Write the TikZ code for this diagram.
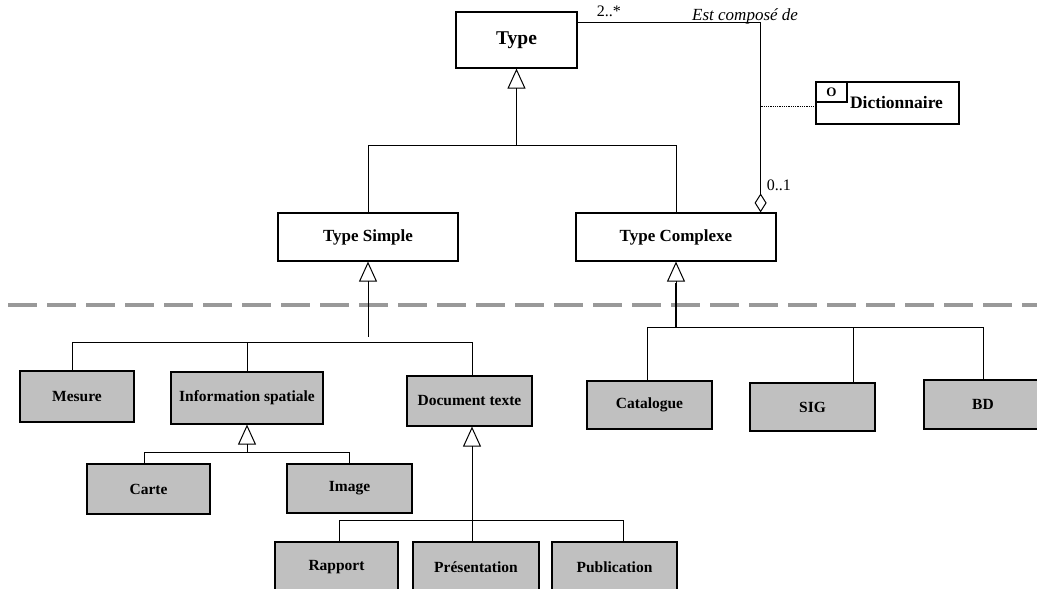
\documentclass[tikz,border=0pt]{standalone}
\usepackage{fontspec}
\setmainfont{Liberation Serif}
\usetikzlibrary{arrows.meta,calc}
\definecolor{boxgray}{RGB}{192,192,192}
\definecolor{dashgray}{RGB}{153,153,153}
\tikzset{
  cls/.style={draw, line width=1.2pt, fill=white, inner sep=0pt,
    font=\fontsize{17}{20}\selectfont\bfseries},
  sub/.style={draw, line width=1.2pt, fill=boxgray, inner sep=0pt,
    font=\fontsize{15.5}{18}\selectfont\bfseries},
  link/.style={line width=1pt},
  gen/.style={line width=1pt, -{Triangle[open,length=20pt,width=18pt,line width=1pt]}},
  agg/.style={line width=1pt, -{Diamond[open,length=19pt,width=12pt,line width=1pt]}},
  lbl/.style={inner sep=0pt, font=\fontsize{16}{18}\selectfont},
}
\begin{document}
\begin{tikzpicture}[x=1pt,y=-1pt]
\useasboundingbox (0,0) rectangle (1037,589);
\begin{scope}
\clip (0,0) rectangle (1037,589);
% separator
\draw[dashgray, line width=4pt, dash pattern=on 29pt off 10pt] (8,305) -- (1037,305);

% classes
\node[cls, minimum width=121pt, minimum height=56pt, font=\fontsize{19.5}{22}\selectfont\bfseries] (type) at (516.5,40) {Type};
\node[cls, minimum width=180pt, minimum height=48pt] (ts) at (368,237) {Type Simple};
\node[cls, minimum width=200pt, minimum height=48pt] (tc) at (676,237) {Type Complexe};
\node[cls, minimum width=143pt, minimum height=42pt, font=\fontsize{17.5}{20}\selectfont\bfseries] (dict) at (887.5,103) {\hspace*{18pt}Dictionnaire};
\node[draw, line width=1.2pt, inner sep=0pt, minimum width=31pt, minimum height=20pt,
  anchor=north west, font=\fontsize{13}{15}\selectfont\bfseries] (obj) at (dict.north west) {O};

\node[sub, minimum width=114pt, minimum height=51pt] (mesure) at (77,396.5) {Mesure};
\node[sub, minimum width=152pt, minimum height=52pt] (info) at (247,398) {Information spatiale};
\node[sub, minimum width=125pt, minimum height=50pt] (doc) at (469.5,401) {Document texte};
\node[sub, minimum width=125pt, minimum height=48pt] (cat) at (649.5,405) {Catalogue};
\node[sub, minimum width=125pt, minimum height=48pt] (sig) at (812.5,407) {SIG};
\node[sub, minimum width=118pt, minimum height=49pt] (bd) at (983,404.5) {BD};
\node[sub, minimum width=123pt, minimum height=50pt] (carte) at (148.5,489) {Carte};
\node[sub, minimum width=125pt, minimum height=49pt] (image) at (349.5,488.5) {Image};
\node[sub, minimum width=123pt, minimum height=50pt] (rapport) at (336.5,567) {Rapport};
\node[sub, minimum width=126pt, minimum height=50pt] (pres) at (476,567) {Présentation};
\node[sub, minimum width=125pt, minimum height=50pt] (pub) at (614.5,567) {Publication};

% attachment points (downward = positive y)
\coordinate (j0) at ($(type.south)+(0,77)$);
\coordinate (j1) at ($(ts.south)+(0,75)$);
\coordinate (j1h) at ($(ts.south)+(0,81)$);
\coordinate (j2a) at ($(tc.south)+(0,21)$);
\coordinate (j2) at ($(tc.south)+(0,66)$);
\coordinate (j3) at ($(info.south)+(0,28)$);
\coordinate (j4) at ($(doc.south)+(2.5,0)$);
\coordinate (presTop) at (pres.north -| j4);
\coordinate (j5) at ($(presTop)+(0,-21)$);
\coordinate (mesT) at ($(mesure.north)+(-5,0)$);
\coordinate (docT) at (doc.north -| j4);
\coordinate (catT) at ($(cat.north)+(-2.5,0)$);
\coordinate (sigT) at ($(sig.north)+(40.5,0)$);
\coordinate (carT) at ($(carte.north)+(-4.5,0)$);
\coordinate (rapT) at ($(rapport.north)+(2.5,0)$);
\coordinate (pubT) at ($(pub.north)+(8.5,0)$);

% Type generalisation
\draw[gen] (j0) -- (type.south);
\draw[link] (ts.north) |- (j0) -| (tc.north);

% Type Simple generalisation (stem stops short of the bar)
\draw[gen] (j1) -- (ts.south);
\draw[link] (mesT) |- (j1h) -| (docT);
\draw[link] (info.north) -- (info.north |- j1h);

% Type Complexe generalisation
\draw[line width=2pt] (j2) -- (j2a);
\draw[gen] (j2a) -- (tc.south);
\draw[link] (catT) |- (j2) -| (bd.north);
\draw[link] (sigT) -- (sigT |- j2);

% Information spatiale generalisation
\draw[gen] (j3) -- (info.south);
\draw[link] (carT) |- (j3) -| (image.north);

% Document texte generalisation
\draw[gen] (presTop) -- (j4);
\draw[link] (rapT) |- (j5) -| (pubT);

% association
\coordinate (aA) at ($(type.north east)+(0,11)$);
\coordinate (aB) at ($(tc.north east)+(-16,0)$);
\draw[agg] (aA) -| (aB);
\draw[densely dotted, line width=0.8pt] ($(dict.south west)+(0,-18)$) -- ($(aB |- dict.south west)+(0,-18)$);

% labels
\node[lbl, anchor=west] (m1) at ($(type.north east)+(19,0)$) {2..*};
\node[lbl, anchor=west, font=\fontsize{17}{19}\selectfont\itshape] (rel) at (692,16) {Est composé de};
\node[lbl, anchor=west] (m2) at ($(aB)+(6,-27)$) {0..1};
\end{scope}
\end{tikzpicture}
\end{document}
